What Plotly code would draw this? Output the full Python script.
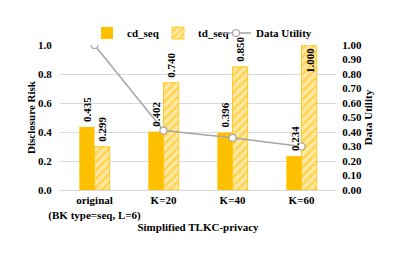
import plotly.graph_objects as go

categories = ["original<br>(BK type=seq, L=6)", "K=20", "K=40", "K=60"]
tick_text = ["<b>original</b><br><b>(BK type=seq, L=6)</b>", "<b>K=20</b>", "<b>K=40</b>", "<b>K=60</b>"]
cd_seq = [0.435, 0.402, 0.396, 0.234]
td_seq = [0.299, 0.740, 0.850, 1.000]
utility = [1.00, 0.41, 0.36, 0.30]
left_ticks = [0.0, 0.2, 0.4, 0.6, 0.8, 1.0]
right_ticks = [round(i * 0.1, 1) for i in range(11)]

FONT = "Liberation Serif, Times New Roman, serif"
GOLD = "#FFC000"
PALE = "#FFE9A6"

fig = go.Figure()
fig.add_trace(go.Bar(
    x=categories, y=cd_seq, name="<b>cd_seq</b>",
    marker=dict(color=GOLD, line=dict(width=0)),
))
fig.add_trace(go.Bar(
    x=categories, y=td_seq, name="<b>td_seq</b>",
    marker=dict(color=PALE, line=dict(width=0.8, color=GOLD),
                pattern=dict(shape="/", fgcolor=GOLD, bgcolor=PALE, size=6, solidity=0.45)),
))
fig.add_trace(go.Scatter(
    x=categories, y=utility, name="<b>Data Utility</b>", yaxis="y2", legend="legend2",
    mode="lines+markers",
    line=dict(color="#A5A5A5", width=1.5),
    marker=dict(symbol="circle", size=7, color="white", line=dict(color="#A5A5A5", width=1.2)),
))

# value labels (rotated) above each bar
for vals, shift in ((cd_seq, -7), (td_seq, 8)):
    for c, v in zip(categories, vals):
        top = v > 0.9
        fig.add_annotation(
            x=c, y=v, xref="x", yref="y", xshift=shift,
            yshift=-1 if top else 3,
            text=f"<b>{v:.3f}</b>", textangle=-90, showarrow=False,
            yanchor="top" if top else "bottom", xanchor="center",
            font=dict(family=FONT, size=11, color="black"),
        )

W, H = 407, 249
legend_common = dict(orientation="h", xanchor="left", xref="container",
                     y=1 - 25 / H, yanchor="middle", yref="container",
                     font=dict(family=FONT, size=11, color="black"),
                     itemwidth=30, traceorder="normal", bgcolor="rgba(0,0,0,0)")
fig.update_layout(
    width=W, height=H,
    margin=dict(l=52, r=79, t=37, b=67, autoexpand=False),
    paper_bgcolor="white", plot_bgcolor="white",
    font=dict(family=FONT, size=11, color="black"),
    barmode="group", bargap=0.56, bargroupgap=0,
    showlegend=True,
    legend=dict(x=79 / W, entrywidth=26, entrywidthmode="pixels", **legend_common),
    legend2=dict(x=208 / W, **legend_common),
    xaxis=dict(title=dict(text="<b>Simplified TLKC-privacy</b>", standoff=2,
                          font=dict(family=FONT, size=11)),
               tickvals=categories, ticktext=tick_text,
               tickfont=dict(family=FONT, size=11),
               showline=True, linecolor="#D9D9D9", ticks="", automargin=False),
    yaxis=dict(title=dict(text="<b>Disclosure Risk</b>", standoff=0,
                          font=dict(family=FONT, size=11)),
               range=[0, 1.0], tickvals=left_ticks,
               ticktext=[f"<b>{v:.1f}</b>" for v in left_ticks],
               tickfont=dict(family=FONT, size=11),
               ticks="outside", ticklen=5, tickcolor="rgba(0,0,0,0)",
               showgrid=True, gridcolor="#D9D9D9", zeroline=False, automargin=False),
    yaxis2=dict(title=dict(text="<b>Data Utility</b>", standoff=2,
                           font=dict(family=FONT, size=11)),
                overlaying="y", side="right", range=[0, 1.0],
                tickvals=right_ticks,
                ticktext=[f"<b>{v:.2f}</b>" for v in right_ticks],
                tickfont=dict(family=FONT, size=11),
                ticks="outside", ticklen=3, tickcolor="rgba(0,0,0,0)",
                showgrid=False, zeroline=False, automargin=False),
)
fig.write_html("out.html")
